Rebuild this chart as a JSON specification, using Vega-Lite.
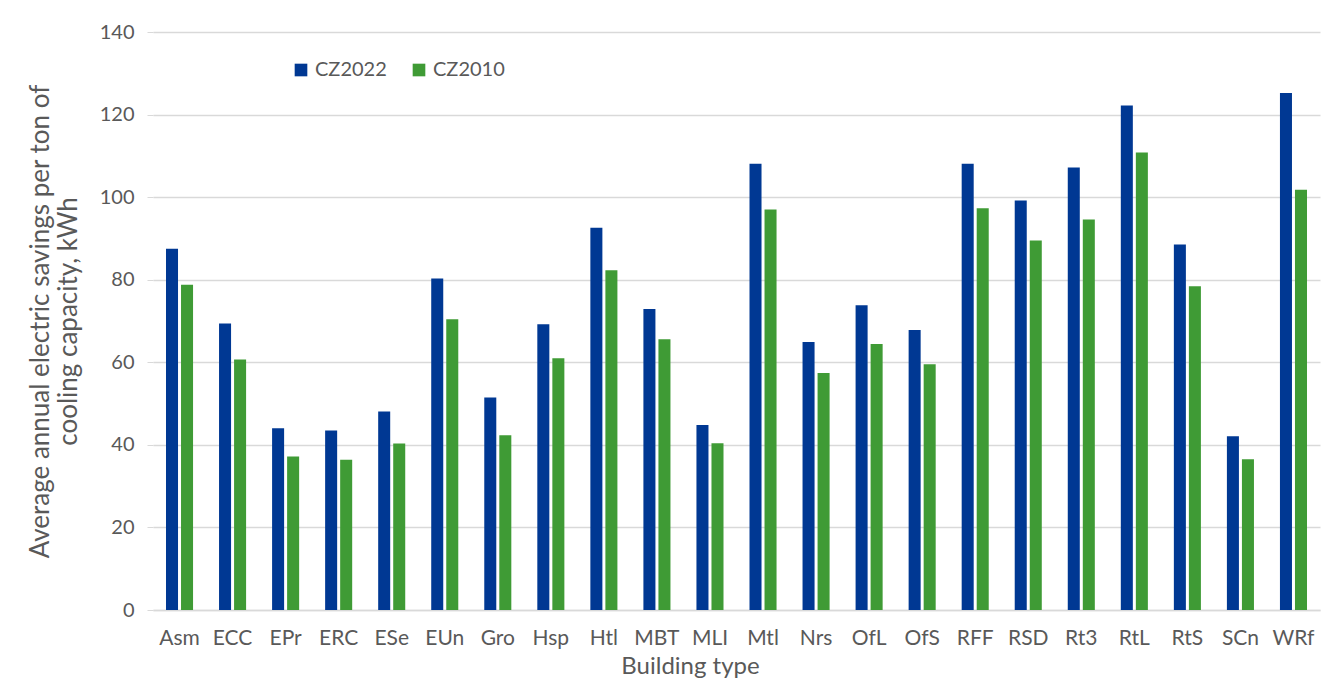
{
  "$schema": "https://vega.github.io/schema/vega-lite/v6.json",
  "width": 1167,
  "height": 578,
  "autosize": {"type": "none"},
  "padding": {"left": 153, "top": 32, "right": 10, "bottom": 88},
  "background": "white",
  "config": {
    "font": "Lato",
    "view": {"stroke": null},
    "axis": {"labelColor": "#595959", "titleColor": "#595959", "labelFont": "Lato", "titleFont": "Lato", "titleFontWeight": "normal"}
  },
  "data": {"values": [
    {"type": "Asm", "series": "CZ2022", "value": 87.5}, {"type": "Asm", "series": "CZ2010", "value": 78.8},
    {"type": "ECC", "series": "CZ2022", "value": 69.4}, {"type": "ECC", "series": "CZ2010", "value": 60.7},
    {"type": "EPr", "series": "CZ2022", "value": 44.0}, {"type": "EPr", "series": "CZ2010", "value": 37.2},
    {"type": "ERC", "series": "CZ2022", "value": 43.5}, {"type": "ERC", "series": "CZ2010", "value": 36.4},
    {"type": "ESe", "series": "CZ2022", "value": 48.1}, {"type": "ESe", "series": "CZ2010", "value": 40.3},
    {"type": "EUn", "series": "CZ2022", "value": 80.3}, {"type": "EUn", "series": "CZ2010", "value": 70.4},
    {"type": "Gro", "series": "CZ2022", "value": 51.5}, {"type": "Gro", "series": "CZ2010", "value": 42.3},
    {"type": "Hsp", "series": "CZ2022", "value": 69.2}, {"type": "Hsp", "series": "CZ2010", "value": 61.0},
    {"type": "Htl", "series": "CZ2022", "value": 92.6}, {"type": "Htl", "series": "CZ2010", "value": 82.3},
    {"type": "MBT", "series": "CZ2022", "value": 72.9}, {"type": "MBT", "series": "CZ2010", "value": 65.6},
    {"type": "MLI", "series": "CZ2022", "value": 44.8}, {"type": "MLI", "series": "CZ2010", "value": 40.4},
    {"type": "Mtl", "series": "CZ2022", "value": 108.1}, {"type": "Mtl", "series": "CZ2010", "value": 97.0},
    {"type": "Nrs", "series": "CZ2022", "value": 64.9}, {"type": "Nrs", "series": "CZ2010", "value": 57.4},
    {"type": "OfL", "series": "CZ2022", "value": 73.8}, {"type": "OfL", "series": "CZ2010", "value": 64.4},
    {"type": "OfS", "series": "CZ2022", "value": 67.8}, {"type": "OfS", "series": "CZ2010", "value": 59.5},
    {"type": "RFF", "series": "CZ2022", "value": 108.1}, {"type": "RFF", "series": "CZ2010", "value": 97.3},
    {"type": "RSD", "series": "CZ2022", "value": 99.2}, {"type": "RSD", "series": "CZ2010", "value": 89.5},
    {"type": "Rt3", "series": "CZ2022", "value": 107.2}, {"type": "Rt3", "series": "CZ2010", "value": 94.6},
    {"type": "RtL", "series": "CZ2022", "value": 122.2}, {"type": "RtL", "series": "CZ2010", "value": 110.8},
    {"type": "RtS", "series": "CZ2022", "value": 88.5}, {"type": "RtS", "series": "CZ2010", "value": 78.4},
    {"type": "SCn", "series": "CZ2022", "value": 42.1}, {"type": "SCn", "series": "CZ2010", "value": 36.5},
    {"type": "WRf", "series": "CZ2022", "value": 125.2}, {"type": "WRf", "series": "CZ2010", "value": 101.8}
  ]},
  "mark": {"type": "bar"},
  "encoding": {
    "x": {
      "field": "type", "type": "nominal", "sort": null,
      "scale": {"paddingInner": 0.49, "paddingOuter": 0.245},
      "axis": {"title": "Building type", "titleFontSize": 24, "titleX": 537, "labelFontSize": 21, "labelAngle": 0, "labelPadding": 17, "titlePadding": 6, "domainColor": "#d9d9d9", "domainWidth": 1.5, "ticks": false}
    },
    "xOffset": {"field": "series", "type": "nominal", "sort": ["CZ2022", "CZ2010"], "scale": {"paddingInner": 0.2, "paddingOuter": 0}},
    "y": {
      "field": "value", "type": "quantitative",
      "scale": {"domain": [0, 140], "nice": false},
      "axis": {"title": ["Average annual electric savings per ton of", "cooling capacity, kWh"], "titleFontSize": 26, "titleLineHeight": 28, "labelFontSize": 20, "values": [0, 20, 40, 60, 80, 100, 120, 140], "gridColor": "#d9d9d9", "gridWidth": 1.5, "domain": false, "tickColor": "#d9d9d9", "tickSize": 6, "labelPadding": 13, "titlePadding": 18}
    },
    "color": {
      "field": "series", "type": "nominal",
      "scale": {"domain": ["CZ2022", "CZ2010"], "range": ["#003893", "#3f9b35"]},
      "legend": {"title": null, "orient": "none", "legendX": 138, "legendY": 28, "direction": "horizontal", "symbolType": "square", "symbolSize": 160, "symbolStrokeWidth": 0, "labelFontSize": 20, "labelColor": "#595959", "labelFont": "Lato", "columnPadding": 22, "labelOffset": 4}
    }
  }
}
